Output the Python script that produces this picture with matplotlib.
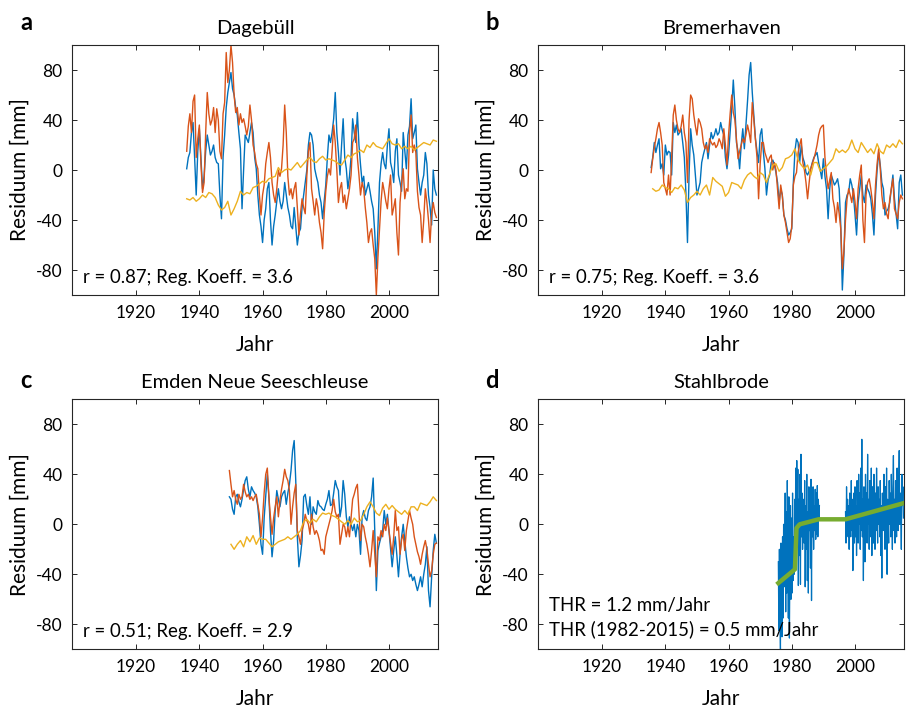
import numpy as np
import matplotlib.pyplot as plt

plt.rcParams['font.family'] = ['Lato', 'DejaVu Sans']
plt.rcParams['axes.unicode_minus'] = False

BLAU = '#0072BD'
ORANGE = '#D95319'
GELB = '#EDB120'
GRUEN = '#77AC30'
ACHSE = '#262626'

# a) Dagebüll - Halbjahreswerte ab 1936.0, gelb Jahreswerte ab 1936
a_start = 1936.0
a_blau = [1, 10, 14, 30, 38, 10, -20, 15, 33, 10, -15, -5, 15, 28, 20, 12, 15, 20, 10, 6,
          5, -20, -39, 10, 28, 50, 62, 70, 78, 65, 60, 50, 44, 30, 17, -31, 0, 28, 25, 22,
          30, 38, 30, 10, 1, -20, -36, -45, -58, -40, -31, -15, -10, -40, -60, -45, -36, -25, -15, -25,
          -31, -25, -10, -20, -30, -36, -45, -47, -30, -45, -60, -50, -47, -30, -20, -10, 0, 20, 30, 28,
          20, 1, -5, -10, -20, -26, -39, -25, -12, 10, 28, 22, 30, 41, 62, 30, 14, -4, 20, 41,
          10, 1, -15, -5, 10, 41, 30, 22, 46, 20, 4, -10, -5, -20, -15, -10, -17, -25, -31, -50,
          -79, -47, -10, 5, 14, 5, 1, 20, 33, 6, 0, -10, 15, 25, -4, -10, -17, 30, 15, 1,
          28, 35, 57, 25, 30, 36, 1, -10, -20, -10, -4, 14, 5, -20, -30, -44, 0, -15, -20]
a_orange = [15, 35, 45, 30, 55, 60, 10, 25, 36, 5, -18, -10, 30, 62, 45, 36, 40, 50, 30, 49,
            40, 15, 9, 45, 54, 94, 70, 80, 100, 86, 60, 46, 50, 36, 45, 38, 41, 35, 28, 35,
            52, 40, 20, 14, 5, 1, -20, -36, -20, -12, 5, 14, 22, 10, -10, -20, -26, -15, 0, -5,
            1, 20, 52, 30, -5, -20, -15, -23, -15, -10, -30, -52, -35, -23, -30, -35, -5, 15, 22, -15,
            -25, -36, -23, -30, -42, -50, -63, -35, -17, -5, 1, -4, 15, 36, 22, 0, -26, -15, -10, -26,
            -20, -31, -23, -15, -4, 22, 25, 36, 10, -4, -20, -10, -15, -30, -42, -58, -50, -47, -60, -71,
            -100, -70, -47, -25, -10, -17, -25, -31, -15, -4, -36, -30, -23, -50, -68, -26, -10, 1, -23, -15,
            -17, 30, 44, 14, 20, 14, -17, -30, -36, -58, -40, -15, -26, -40, -58, -35, -26, -34, -38]
a_gelb = [-23, -24, -22, -25, -23, -20, -22, -18, -19, -22, -28, -32, -30, -25, -36, -31, -25, -17, -20, -18,
          -19, -14, -13, -11, -9, -10, -7, -6, -5, 2, -2, 0, 1, 0, 3, 6, 2, 5, 8, 10,
          7, 6, 9, 11, 8, 9, 8, 7, 5, 4, 8, 12, 10, 13, 14, 16, 14, 20, 18, 22,
          19, 18, 17, 21, 25, 21, 20, 21, 17, 19, 17, 19, 16, 18, 20, 22, 21, 20, 24, 23]

# b) Bremerhaven - Halbjahreswerte ab 1935.5, gelb Jahreswerte ab 1936
b_start = 1935.5
b_blau = [2, 10, 22, 14, 20, 25, 1, 5, -4, 20, 12, 15, 14, -4, 38, 30, 36, 28, 30, 33,
          22, 10, -18, -58, -4, 33, 20, 12, -4, -20, -15, -10, 6, 12, 17, 22, 9, 20, 30, 25,
          28, 33, 28, 30, 38, 32, 28, 10, 1, 12, 30, 49, 72, 50, 22, 15, 1, 20, 33, 17,
          36, 55, 76, 86, 62, 44, 25, 15, 6, 28, 33, 15, 1, -20, -8, -4, 6, 8, 4, -2,
          -10, -26, -15, -20, -36, -40, -47, -52, -50, -47, -10, 15, 25, 22, 6, 20, 10, 6, -2, -4,
          -1, 1, 6, 10, 12, 14, 6, 0, -7, 9, -5, -15, -39, -15, -4, -8, -12, -10, -7, -15,
          -44, -96, -68, -26, -20, -18, -7, -12, -20, -35, -52, -26, -15, -4, -20, -26, -12, -15, -18, -23,
          -35, -52, -20, 0, 14, 4, -10, -15, -36, -33, -31, -26, -15, -4, -23, -35, -47, -10, -4, -20]
b_orange = [-2, 9, 18, 25, 33, 38, 30, 20, -10, -15, -20, -4, -20, 10, 44, 52, 40, 33, 30, 35,
            44, 30, 22, -10, 40, 60, 57, 44, 35, 28, 41, 38, 33, 22, 17, 20, 14, 25, 22, 20,
            22, 18, 20, 25, 22, 17, 33, 20, 4, 28, 45, 60, 46, 40, 25, 9, 15, 20, 25, 22,
            28, 36, 30, 22, 54, 40, 25, 10, -23, 5, 22, 22, 14, 10, 6, 10, 12, 0, 6, 0,
            -15, -31, -12, -20, -36, -42, -50, -58, -55, -45, -12, -5, -2, 14, 20, 25, 6, 0, -10, -23,
            -10, 1, 5, 9, 14, 20, 28, 33, 35, 36, 10, -4, -15, -8, -2, -23, -30, -42, -26, -35,
            -47, -79, -65, -40, -23, -15, -20, -26, -15, -25, -39, -15, -4, 4, -40, -58, -20, -10, -7, -15,
            -25, -39, -12, 5, 17, 1, -20, -31, -26, -35, -39, -23, -15, -7, -31, -35, -39, -26, -20, -23]
b_gelb = [-15, -17, -16, -12, -14, -15, -18, -14, -15, -12, -16, -26, -22, -20, -17, -20, -15, -12, -20, -6,
          -9, -11, -13, -21, -18, -10, -11, -12, -15, -8, -4, -2, -5, -7, -2, -4, -10, -3, 4, 5,
          -1, 2, 9, 10, 12, 17, 8, 4, 1, 4, -4, 6, 6, -1, 1, 3, 6, 9, 17, 14,
          16, 14, 17, 24, 17, 14, 22, 18, 14, 17, 13, 21, 15, 13, 20, 18, 21, 18, 24, 21]

# c) Emden Neue Seeschleuse - Halbjahreswerte ab 1949.5, gelb Jahreswerte ab 1950
c_start = 1949.5
c_blau = [22, 20, 12, 8, 22, 24, 18, 14, 20, 28, 35, 38, 28, 22, 30, 27, 25, 22, 14, 0,
          -16, -24, 5, 22, 40, 22, -5, -26, -13, 11, 27, 20, 14, 22, 25, 27, 16, 25, 32, 43,
          59, 67, 35, -10, -34, -25, -13, 22, 24, 15, 8, 22, 0, 14, 10, 8, 19, 15, 14, 12,
          11, 16, 20, 27, 15, 16, 25, 35, 30, 27, 6, 14, 35, 24, 6, -2, 6, 0, -5, 0,
          -10, 0, -5, -24, 6, 11, 5, 3, 11, 14, 22, 37, -5, -53, -21, -15, -10, -5, 11, 0,
          8, -5, -20, -34, -21, -10, -25, -42, -24, -10, 0, -13, -26, -35, -42, -40, -45, -42, -48, -53,
          -48, -42, -50, -40, -32, -18, -53, -66, -42, -21, -8, -15]
c_orange = [43, 32, 22, 27, 20, 16, 24, 20, 22, 32, 26, 22, 24, 20, 22, 19, 22, 24, 16, 8,
            -10, 5, 25, 40, 45, 22, 6, -8, 5, 14, 22, 6, 19, 28, 35, 44, 38, 35, 27, 0,
            14, 25, 32, -5, -10, -16, -5, 0, 8, 3, 0, -8, 8, -2, -8, -5, -8, -13, -21, -20,
            -24, -10, -5, 0, 5, 11, 20, 10, 6, 8, -16, -8, 0, -2, -10, -2, -10, 5, 20, 24,
            29, 32, 10, -13, 0, -2, -10, -16, -24, -34, -21, -5, -24, -42, -10, -13, -5, -10, 0, -5,
            5, -5, -15, -24, -10, 11, -5, -2, -24, -12, -8, -21, -5, 3, 11, 5, 0, -10, -16, -22,
            -26, -32, -24, -18, -13, -20, -32, -42, -37, -24, -16, -15]
c_gelb = [-16, -20, -16, -13, -18, -10, -14, -9, -16, -11, -12, -12, -15, -18, -16, -14, -13, -12, -10, -12,
          -10, -8, -5, 2, 4, 1, 4, 2, 6, 9, 8, 9, 7, 6, 4, 2, 0, 3, 0, 5,
          2, 3, 8, 14, 18, 14, 9, 7, 13, 16, 12, 15, 12, 10, 8, 11, 8, 14, 14, 11,
          17, 16, 15, 18, 22, 19]

# d) Stahlbrode - sechs Werte pro Jahr, zwei Messabschnitte
d1_start = 1975.75
d1_blau = [-30, -85, -20, -70, -100, -15,
           -60, -90, -10, -75, 0, -50,
           -40, 25, -70, 10, -55, 35,
           -20, -75, 22, -91, -30, 15,
           -60, 5, -55, 25, -45, -10,
           -40, 20, -30, 45, -15, 51,
           -10, 44, -49, 20, -25, 40,
           -48, 56, -10, 25, -20, 10,
           20, -15, 35, -50, 15, -20,
           40, -45, 10, -55, 30, -5,
           20, -35, 36, -61, 25, -10,
           30, -20, 15, -5, 28, -12,
           25, -8, 31, -10, 20, 5,
           15]
d2_start = 1997.0
d2_blau = [10, -15, 30, -5, 20, -10,
           15, -20, 25, 0, -10, 35,
           -5, 20, -37, 10, 25, -15,
           30, -10, 15, -25, 35, 5,
           -15, 40, 0, 25, -20, 45,
           -5, 68, -10, 20, -45, 30,
           10, -30, 40, -5, 25, -15,
           56, 0, 20, -20, 35, 5,
           -10, 45, -25, 30, 10, -15,
           40, 5, -20, 25, -5, 45,
           10, -15, 30, 0, 20, -10,
           35, -25, 15, -43, 25, 5,
           -5, 40, 10, -20, 30, -10,
           45, -40, 20, 5, -15, 35,
           0, 25, -10, 40, 10, -20,
           30, 55, -5, 20, -15, 35,
           10, -10, 45, 15, -5, 30,
           59, 0, 25, 10, -20, 40,
           15, 30, 5]
d_trend_jahr = [1975.75, 1981.0, 1981.5, 1982.5, 1988.5, 1997.0, 2015.5]
d_trend = [-47, -36, -3, 0, 4, 4, 17]

titel = ['Dagebüll', 'Bremerhaven', 'Emden Neue Seeschleuse', 'Stahlbrode']
buchstaben = ['a', 'b', 'c', 'd']
info = ['r = 0.87; Reg. Koeff. = 3.6', 'r = 0.75; Reg. Koeff. = 3.6', 'r = 0.51; Reg. Koeff. = 2.9']


def halbjahre(start, werte):
    return start + 0.5 * np.arange(len(werte))


def jahre(start, werte):
    return start + np.arange(len(werte))


fig = plt.figure(figsize=(9.13, 7.09), dpi=100)
pos = [(0.0792, 0.5839), (0.5896, 0.5839), (0.0792, 0.0842), (0.5896, 0.0842)]
achsen = [fig.add_axes([l, b, 0.4005, 0.3526]) for l, b in pos]

reihen = [(a_start, a_blau, a_orange, 1936, a_gelb),
          (b_start, b_blau, b_orange, 1936, b_gelb),
          (c_start, c_blau, c_orange, 1950, c_gelb)]

for ax, (s, bl, orr, gs, ge) in zip(achsen[:3], reihen):
    ax.plot(halbjahre(s, bl), bl, color=BLAU, lw=1.0)
    ax.plot(halbjahre(s, orr), orr, color=ORANGE, lw=1.0)
    ax.plot(jahre(gs, ge), ge, color=GELB, lw=1.0)

ax = achsen[3]
ax.plot(d1_start + np.arange(len(d1_blau)) / 6, d1_blau, color=BLAU, lw=0.9)
ax.plot(d2_start + np.arange(len(d2_blau)) / 6, d2_blau, color=BLAU, lw=0.9)
ax.plot(d_trend_jahr, d_trend, color=GRUEN, lw=3.2, solid_joinstyle='round')

for i, ax in enumerate(achsen):
    ax.set_xlim(1899.8, 2015.5)
    ax.set_ylim(-100, 100)
    ax.set_xticks([1920, 1940, 1960, 1980, 2000])
    ax.set_yticks([-80, -40, 0, 40, 80])
    ax.tick_params(direction='in', length=3.5, width=0.7, top=True, right=True,
                   labelsize=12.5, labelcolor='black', color=ACHSE, pad=7)
    for sp in ax.spines.values():
        sp.set_color(ACHSE)
        sp.set_linewidth(0.8)
    ax.text(0.5, 1.068, titel[i], transform=ax.transAxes, ha='center', va='center',
            fontsize=14.5, color='black')
    ax.text(0.5, -0.2, 'Jahr', transform=ax.transAxes, ha='center', va='center',
            fontsize=15, color='black')
    ax.text(-0.143, 0.5, 'Residuum [mm]', transform=ax.transAxes, ha='center', va='center',
            rotation=90, fontsize=15, color='black')
    if i < 3:
        ax.text(1903.2, -86, info[i], ha='left', va='center', fontsize=13.4)

achsen[3].text(1903.2, -65, 'THR = 1.2 mm/Jahr', ha='left', va='center', fontsize=13.4)
achsen[3].text(1903.2, -84, 'THR (1982-2015) = 0.5 mm/Jahr', ha='left', va='center', fontsize=13.4)

for (x, y), bu in zip([(26, 22), (492, 22), (26, 380), (492, 380)], buchstaben):
    fig.text(x / 913, 1 - y / 709, bu, ha='center', va='center', fontsize=17, fontweight='bold')

fig.savefig('out.png', dpi=100)
